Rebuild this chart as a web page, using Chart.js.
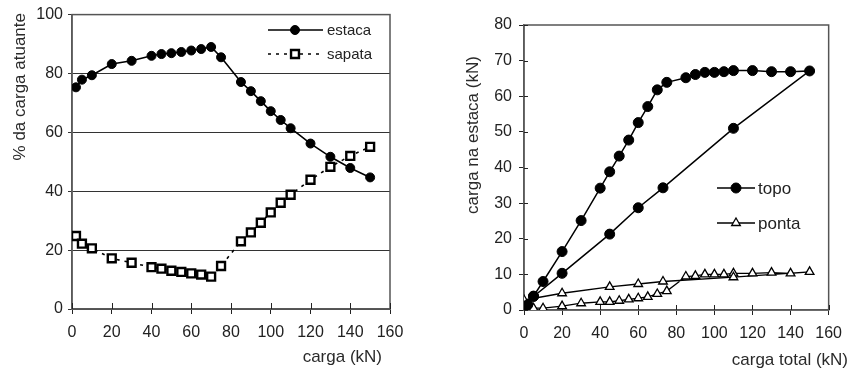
<!DOCTYPE html>
<html><head><meta charset="utf-8">
<script src="https://cdn.jsdelivr.net/npm/chart.js@4/dist/chart.umd.min.js"></script>
<style>
html,body{margin:0;padding:0;background:#fff;width:851px;height:372px;overflow:hidden}
#c1{position:absolute;left:0;top:0}
#c2{position:absolute;left:430px;top:0}
</style></head><body>
<canvas id="c1" width="425" height="372"></canvas>
<canvas id="c2" width="421" height="372"></canvas>
<script>
// ---- Left chart data: % da carga atuante ----
const cargaLeft = [2,5,10,20,30,40,45,50,55,60,65,70,75,85,90,95,100,105,110,120,130,140,150];
const estacaPct = [75.3,77.9,79.4,83.2,84.3,86.0,86.6,86.9,87.3,87.8,88.3,89.0,85.5,77.1,74.0,70.6,67.2,64.2,61.4,56.2,51.7,47.9,44.7];
const sapataPct = [24.8,22.2,20.6,17.2,15.7,14.2,13.7,13.0,12.6,12.1,11.7,11.0,14.6,23.0,26.0,29.3,32.8,36.1,38.8,43.9,48.3,52.0,55.1];

// ---- Right chart data: carga na estaca (kN) vs carga total (kN) ----
const topoCarga = [0,2,5,10,20,30,40,45,50,55,60,65,70,75,85,90,95,100,105,110,120,130,140,150,110,73,60,45,20,5,0];
const topoValor = [0,1.5,3.9,8.0,16.4,25.1,34.2,38.8,43.2,47.7,52.6,57.1,61.8,63.9,65.2,66.1,66.7,66.7,66.9,67.2,67.2,66.9,66.9,67.1,51.0,34.3,28.7,21.3,10.3,3.8,1.0];
const pontaCarga = [0,2,5,10,20,30,40,45,50,55,60,65,70,75,85,90,95,100,105,110,120,130,140,150,110,73,60,45,20,0];
const pontaValor = [0,0.3,0.5,0.5,1.1,1.9,2.3,2.3,2.6,3.0,3.3,3.7,4.5,5.3,9.4,9.6,10.0,10.0,10.0,10.3,10.3,10.5,10.3,10.7,9.2,8.0,7.3,6.5,4.7,2.8];

// ---- labels ----
const leftSeriesNames = ['estaca','sapata'];
const rightSeriesNames = ['topo','ponta'];
const leftXTitle = 'carga (kN)';
const leftYTitle = '% da carga atuante';
const rightXTitle = 'carga total (kN)';
const rightYTitle = 'carga na estaca (kN)';

const FONT = '"Liberation Sans", Arial, sans-serif';
Chart.defaults.font.family = FONT;
Chart.defaults.color = '#222';

function pts(xs, ys){ return xs.map((x,i)=>({x:x, y:ys[i]})); }

function decoPlugin(cfg){
  return {
    id: 'deco',
    beforeDatasetsDraw(chart){
      const ctx = chart.ctx, a = chart.chartArea;
      ctx.save();
      ctx.strokeStyle = cfg.boxColor; ctx.lineWidth = cfg.boxWidth;
      ctx.strokeRect(a.left, a.top, a.right - a.left, a.bottom - a.top);
      // inward tick marks
      ctx.strokeStyle = '#222'; ctx.lineWidth = 1;
      const xs = chart.scales.x;
      xs.ticks.forEach(t => {
        const px = Math.round(xs.getPixelForValue(t.value)) + 0.5;
        ctx.beginPath(); ctx.moveTo(px, a.bottom); ctx.lineTo(px, a.bottom - cfg.xIn); ctx.stroke();
      });
      if (cfg.yIn) {
        const ys = chart.scales.y;
        ys.ticks.forEach(t => {
          const py = Math.round(ys.getPixelForValue(t.value)) + 0.5;
          ctx.beginPath(); ctx.moveTo(a.left, py); ctx.lineTo(a.left + cfg.yIn, py); ctx.stroke();
        });
      }
      ctx.restore();
    },
    afterDraw(chart){
      const ctx = chart.ctx;
      ctx.save();
      ctx.fillStyle = '#2a2a2a';
      ctx.font = cfg.titleSize + 'px ' + FONT;
      // x title
      ctx.textAlign = 'right'; ctx.textBaseline = 'middle';
      ctx.fillText(cfg.xTitle, cfg.xTitlePos[0], cfg.xTitlePos[1]);
      // y title
      ctx.translate(cfg.yTitlePos[0], cfg.yTitlePos[1]);
      ctx.rotate(-Math.PI/2);
      ctx.textAlign = cfg.yTitleAlign;
      ctx.fillText(cfg.yTitle, 0, 0);
      ctx.restore();
      // legend
      ctx.save();
      chart.data.datasets.forEach((ds, i) => {
        const y = cfg.legY[i];
        ctx.strokeStyle = ds.borderColor; ctx.lineWidth = ds.borderWidth;
        ctx.setLineDash(ds.borderDash || []);
        ctx.beginPath(); ctx.moveTo(cfg.legX0, y); ctx.lineTo(cfg.legX1, y); ctx.stroke();
        ctx.setLineDash([]);
        ctx.fillStyle = ds.pointBackgroundColor; ctx.strokeStyle = ds.pointBorderColor;
        ctx.lineWidth = ds.pointBorderWidth;
        Chart.helpers.drawPoint(ctx, {pointStyle: ds.pointStyle, radius: ds.pointRadius, rotation: 0, borderWidth: ds.pointBorderWidth}, cfg.legMx, y);
        ctx.fillStyle = '#222';
        ctx.font = cfg.legSize + 'px ' + FONT;
        ctx.textAlign = 'left'; ctx.textBaseline = 'middle';
        ctx.fillText(ds.label, cfg.legTx, y + 1);
      });
      ctx.restore();
    }
  };
}

// ---------------- Left chart ----------------
new Chart(document.getElementById('c1'), {
  type: 'scatter',
  data: {
    datasets: [
      { label: leftSeriesNames[0], data: pts(cargaLeft, estacaPct), showLine: true,
        borderColor: '#000', borderWidth: 1.6, pointStyle: 'circle', pointRadius: 4.5,
        pointBackgroundColor: '#000', pointBorderColor: '#000', pointBorderWidth: 1 },
      { label: leftSeriesNames[1], data: pts(cargaLeft, sapataPct), showLine: true,
        borderColor: '#000', borderWidth: 1.6, borderDash: [3,5], pointStyle: 'rect', pointRadius: 5.6,
        pointBackgroundColor: '#fff', pointBorderColor: '#000', pointBorderWidth: 2.4 }
    ]
  },
  options: {
    responsive: false, animation: false, devicePixelRatio: 1,
    layout: { padding: { top: 13, right: 35, left: 0, bottom: 0 } },
    plugins: { legend: { display: false }, tooltip: { enabled: false } },
    scales: {
      x: { type: 'linear', min: 0, max: 160,
        ticks: { stepSize: 20, font: { size: 16 }, padding: 9, color: '#222' },
        grid: { drawOnChartArea: false, tickLength: 5, color: '#222' },
        border: { color: '#666', width: 1.5 },
        afterFit(s){ s.height = 63; } },
      y: { type: 'linear', min: 0, max: 100,
        ticks: { stepSize: 20, font: { size: 16 }, padding: 5, color: '#222' },
        grid: { drawOnChartArea: true, tickLength: 4, color: '#333', lineWidth: 1 },
        border: { color: '#666', width: 1.5 },
        afterFit(s){ s.width = 72; } }
    }
  },
  plugins: [decoPlugin({
    boxColor: '#555', boxWidth: 1.5, xIn: 6, yIn: 0,
    titleSize: 17, xTitle: leftXTitle, xTitlePos: [382, 357],
    yTitle: leftYTitle, yTitlePos: [20, 13], yTitleAlign: 'right',
    legX0: 268, legX1: 323, legMx: 295, legTx: 327, legY: [30, 54], legSize: 15
  })]
});

// ---------------- Right chart ----------------
new Chart(document.getElementById('c2'), {
  type: 'scatter',
  data: {
    datasets: [
      { label: rightSeriesNames[0], data: pts(topoCarga, topoValor), showLine: true,
        borderColor: '#000', borderWidth: 1.5, pointStyle: 'circle', pointRadius: 5,
        pointBackgroundColor: '#000', pointBorderColor: '#000', pointBorderWidth: 1 },
      { label: rightSeriesNames[1], data: pts(pontaCarga, pontaValor), showLine: true,
        borderColor: '#000', borderWidth: 1.3, pointStyle: 'triangle', pointRadius: 5,
        pointBackgroundColor: '#fff', pointBorderColor: '#000', pointBorderWidth: 1.3 }
    ]
  },
  options: {
    responsive: false, animation: false, devicePixelRatio: 1,
    layout: { padding: { top: 25, right: 16, left: 0, bottom: 0 } },
    plugins: { legend: { display: false }, tooltip: { enabled: false } },
    scales: {
      x: { type: 'linear', min: 0, max: 160,
        ticks: { stepSize: 20, font: { size: 16 }, padding: 9, color: '#222' },
        grid: { drawOnChartArea: false, tickLength: 5, color: '#222' },
        border: { color: '#666', width: 1.5 },
        afterFit(s){ s.height = 62; } },
      y: { type: 'linear', min: 0, max: 80,
        ticks: { stepSize: 10, font: { size: 16 }, padding: 7, color: '#222' },
        grid: { drawOnChartArea: false, tickLength: 5, color: '#222' },
        border: { color: '#666', width: 1.5 },
        afterFit(s){ s.width = 94; } }
    }
  },
  plugins: [decoPlugin({
    boxColor: '#555', boxWidth: 1.5, xIn: 5, yIn: 4,
    titleSize: 17, xTitle: rightXTitle, xTitlePos: [418, 360],
    yTitle: rightYTitle, yTitlePos: [43, 135], yTitleAlign: 'center',
    legX0: 287, legX1: 325, legMx: 306, legTx: 328, legY: [188, 223], legSize: 17
  })]
});
</script>
</body></html>
